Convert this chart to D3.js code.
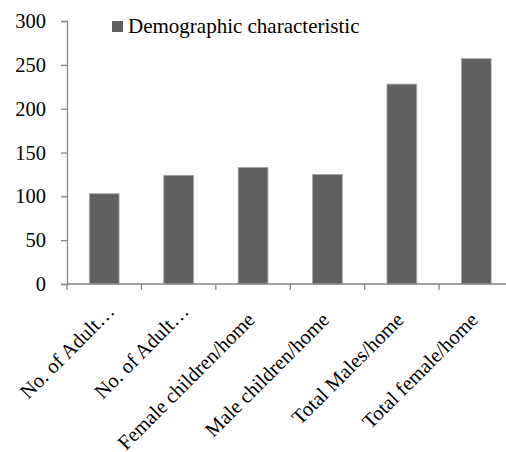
<!DOCTYPE html>
<html>
<head>
<meta charset="utf-8">
<script src="https://cdn.jsdelivr.net/npm/d3@7"></script>
<style>
  html, body { margin: 0; padding: 0; background: #ffffff; }
  svg { display: block; }
  svg text { font-family: "Liberation Serif", "Times New Roman", Times, serif !important; }
</style>
</head>
<body>
<svg id="chart" width="506" height="452"></svg>
<script>
// Household demographic characteristics
const categories = [
  "No. of Adult\u2026",
  "No. of Adult\u2026",
  "Female children/home",
  "Male children/home",
  "Total Males/home",
  "Total female/home"
];
const values = [103, 124, 133, 125, 228, 257];
const yTicks = [0, 50, 100, 150, 200, 250, 300];
const seriesName = "Demographic characteristic";

const svg = d3.select("#chart");
const axisColor = "#868686";

const x = d3.scaleBand()
  .domain(d3.range(categories.length))
  .range([67, 513.5])
  .padding(0);

const y = d3.scaleLinear()
  .domain([0, 300])
  .range([284, 21]);

// Bars
const barW = x.bandwidth() * 0.4;
svg.append("g")
  .selectAll("rect")
  .data(values)
  .join("rect")
  .attr("x", (d, i) => x(i) + (x.bandwidth() - barW) / 2)
  .attr("y", d => y(d))
  .attr("width", barW)
  .attr("height", d => y(0) - y(d))
  .attr("fill", "#606060")
  .attr("stroke", "#a8a8a8")
  .attr("stroke-width", 0.8);

// Y axis
const yAxis = svg.append("g")
  .attr("transform", "translate(67,0)")
  .call(d3.axisLeft(y).tickValues(yTicks).tickSize(6).tickPadding(15).tickFormat(d3.format("d")))
  .attr("font-size", 20.5);
yAxis.select(".domain").attr("stroke", axisColor).attr("stroke-width", 1.3);
yAxis.selectAll(".tick line").attr("stroke", axisColor).attr("stroke-width", 1.3);
yAxis.selectAll(".tick text").attr("fill", "#000");

// X axis line with tick marks at category boundaries
const xAxisG = svg.append("g");
xAxisG.append("line")
  .attr("x1", 67).attr("x2", 506)
  .attr("y1", y(0)).attr("y2", y(0))
  .attr("stroke", axisColor).attr("stroke-width", 1.3);
const bounds = d3.range(categories.length + 1).map(i => x.range()[0] + i * x.step());
xAxisG.selectAll("line.tk")
  .data(bounds)
  .join("line")
  .attr("class", "tk")
  .attr("x1", d => d).attr("x2", d => d)
  .attr("y1", y(0)).attr("y2", y(0) + 6)
  .attr("stroke", axisColor).attr("stroke-width", 1.3);

// Rotated category labels
xAxisG.selectAll("text.cat")
  .data(categories)
  .join("text")
  .attr("class", "cat")
  .attr("transform", (d, i) => `translate(${x(i) + x.bandwidth() / 2 + 3},321) rotate(-45)`)
  .attr("dx", d => d.endsWith("\u2026") ? 12 : 0)
  .attr("text-anchor", "end")
  .attr("font-size", 20.5)
  .attr("fill", "#000")
  .text(d => d);

// Legend
const legend = svg.append("g").attr("transform", "translate(112,21)");
legend.append("rect")
  .attr("width", 11).attr("height", 11)
  .attr("fill", "#606060");
legend.append("text")
  .attr("x", 16).attr("y", 12)
  .attr("font-size", 21)
  .attr("fill", "#000")
  .text(seriesName);
</script>
</body>
</html>
